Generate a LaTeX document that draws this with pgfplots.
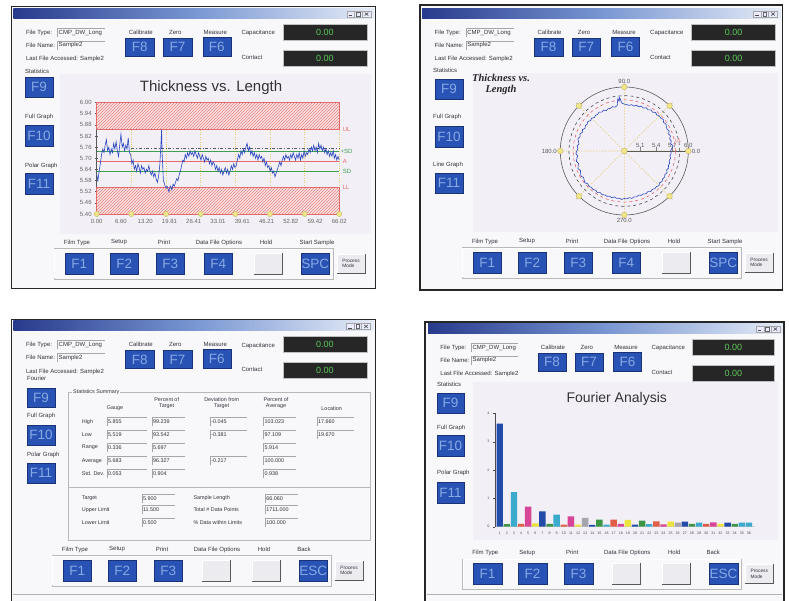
\documentclass[border=0pt]{standalone}
\usepackage{fontspec}
\setmainfont{Liberation Sans}
\newfontfamily\serifbi{Liberation Serif}
\usepackage{pgfplots}
\pgfplotsset{compat=1.18}
\usepgfplotslibrary{polar}
\usetikzlibrary{patterns}

\definecolor{tbA}{RGB}{40,58,140}
\definecolor{tbB}{RGB}{120,150,210}
\definecolor{tbC}{RGB}{230,236,247}
\definecolor{body}{RGB}{248,248,250}
\definecolor{chartbg}{RGB}{243,239,247}
\definecolor{fkfill}{RGB}{40,82,180}
\definecolor{fkedge}{RGB}{25,50,120}
\definecolor{fktxt}{RGB}{135,170,228}
\definecolor{btnfill}{RGB}{236,236,240}
\definecolor{dispfill}{RGB}{38,38,38}
\definecolor{disptxt}{RGB}{90,200,90}
\definecolor{uitext}{RGB}{50,50,60}
\definecolor{trace}{RGB}{40,70,190}
\definecolor{hatchred}{RGB}{228,105,105}
\definecolor{hatchbg}{RGB}{250,228,228}
\definecolor{sdgreen}{RGB}{60,160,80}
\definecolor{gridyel}{RGB}{225,205,110}
\definecolor{mkfill}{RGB}{240,230,140}
\definecolor{mkdraw}{RGB}{200,185,90}
\definecolor{bblue}{RGB}{35,75,170}
\definecolor{bgreen}{RGB}{60,150,70}
\definecolor{bcyan}{RGB}{60,170,205}
\definecolor{bred}{RGB}{225,95,70}
\definecolor{bmag}{RGB}{215,70,150}
\definecolor{byel}{RGB}{235,228,60}
\definecolor{bgray}{RGB}{165,165,175}

\newcommand\uif{\fontsize{6}{7}\selectfont}
\newcommand\smf{\fontsize{5.4}{6}\selectfont}
\newcommand\fkf{\fontsize{13.5}{14}\selectfont}
\tikzset{
  uil/.style={anchor=west, font=\uif, text=uitext, inner sep=0pt},
  uic/.style={anchor=center, font=\uif, text=uitext, inner sep=0pt},
  sml/.style={anchor=west, font=\smf, text=uitext, inner sep=0pt},
}

% blue function key: x1 y1 x2 y2 text
\newcommand\fkey[5]{%
  \filldraw[fill=fkfill, draw=fkedge, line width=0.5pt] (#1,#2) rectangle (#3,#4);
  \node[text=fktxt, font=\fkf, inner sep=0pt] at ({(#1+#3)/2},{(#2+#4)/2}) {#5};}
% grey raised button
\newcommand\bbtn[4]{%
  \fill[btnfill] (#1,#2) rectangle (#3,#4);
  \draw[white, line width=0.7pt] (#1,#4) -- (#1,#2) -- (#3,#2);
  \draw[black!65, line width=0.9pt] (#1,#4) -- (#3,#4) -- (#3,#2);}
% text field: x, y centre, width, text
\newcommand\fld[4]{%
  \draw[gray!70, line width=0.4pt] (#1,#2+4.3) -- (#1,#2-4.5) -- (#1+#3,#2-4.5);
  \node[anchor=west, font=\smf, text=uitext, inner sep=0pt] at (#1+1.2,#2) {#4};}
\newcommand\disp[4]{%
  \filldraw[fill=dispfill, draw=gray!50, line width=0.5pt] (#1,#2) rectangle (#3,#4);
  \node[text=disptxt, font=\fontsize{9}{10}\selectfont, inner sep=0pt] at ({(#1+#3)/2},{(#2+#4)/2}) {0.00};}
\newcommand\pframe[4]{%
  \filldraw[fill=body, draw=black!85, line width=1.2pt] (#1,#2) rectangle (#3,#4);}

% window chrome: origin x, origin y (title bar top left), width, xscale
\newcommand\chrome[4]{%
\begin{scope}[shift={(#1,#2)}, xscale=#4]
  \shade[left color=tbA, right color=tbC, middle color=tbB] (0,0) rectangle (#3,10);
  \filldraw[fill=white!92!blue, draw=gray!70, line width=0.3pt] (#3-27,2.5) rectangle (#3-19.5,8.8);
  \filldraw[fill=white!92!blue, draw=gray!70, line width=0.3pt] (#3-19.5,2.5) rectangle (#3-12,8.8);
  \filldraw[fill=white!92!blue, draw=gray!70, line width=0.3pt] (#3-12,2.5) rectangle (#3-3,8.8);
  \draw[black!70, line width=0.6pt] (#3-25.5,7.2) -- (#3-22,7.2);
  \draw[black!60, line width=0.4pt] (#3-17.6,4) rectangle (#3-14,7.5);
  \draw[black!70, line width=0.6pt] (#3-9.3,4.2) -- (#3-5.7,7.3) (#3-9.3,7.3) -- (#3-5.7,4.2);
  \node[uil] at (12.5,24.3) {File Type:};
  \fld{44}{24.3}{48}{\uif CMP\_DW\_Long}
  \node[uil] at (12.5,37) {File Name:};
  \fld{44}{37}{48}{\uif Sample2}
  \node[uil] at (12.5,51) {Last File Accessed: Sample2};
  \node[uic] at (127.5,24) {Calibrate};
  \node[uic] at (162,24) {Zero};
  \node[uic] at (202,24) {Measure};
  \fkey{112}{30}{141}{47.5}{F8}
  \fkey{150}{30}{178.5}{47.5}{F7}
  \fkey{189.5}{29}{217.5}{48}{F6}
  \node[uil] at (228,25) {Capacitance};
  \node[uil] at (228,49) {Contact};
  \disp{269.5}{16}{353.5}{31.5}
  \disp{269.5}{41.5}{353.5}{58}
\end{scope}}

% bottom button row: F1 top-left x, y, last label, its centre, F4 shown (1/0), last key
\newcommand\bottomrow[6]{%
\begin{scope}[shift={(#1,#2)}]
  \draw[gray!55, line width=0.5pt] (-11,-4.5) rectangle (268,26);
  \draw[white, line width=0.5pt] (-10.4,25.4) -- (-10.4,-3.9) -- (267.4,-3.9);
  \node[uic] at (12,-10.5) {Film Type};
  \node[uic] at (54,-10.5) {Setup};
  \node[uic] at (99,-10.5) {Print};
  \node[uic] at (154,-10.5) {Data File Options};
  \node[uic] at (201,-10.5) {Hold};
  \node[uic] at (#4,-10.5) {#3};
  \fkey{0}{0}{28.5}{21}{F1}
  \fkey{45}{0}{73.5}{21}{F2}
  \fkey{91}{0}{119.5}{21}{F3}
  \ifnum#5=1 \fkey{139}{0}{167.5}{21}{F4}\else\bbtn{139}{0}{167.5}{21}\fi
  \bbtn{189}{0}{217.5}{21}
  \fkey{236}{0}{264.5}{21}{#6}
  \bbtn{272}{1}{300}{20}
  \node[font=\fontsize{4.8}{5.4}\selectfont, text=uitext, align=left, inner sep=0pt] at (286,10.5) {Process\\Mode};
\end{scope}}

\begin{document}
\begin{tikzpicture}[x=1pt,y=1pt]
\useasboundingbox[fill=white] (0,0) rectangle (789,601);
\coordinate (posTL) at (96.7,387);
\coordinate (posPO) at (624.3,450);
\coordinate (posFA) at (495,74.3);
\begin{scope}[shift={(0,601)}, yscale=-1]
  % ---------- frames ----------
  \pframe{11.7}{6.7}{375.7}{288.3}
  \pframe{420}{5}{782.5}{290}
  \pframe{11.7}{319.5}{375.5}{606}
  \pframe{425}{322}{784}{606}
  \fill[chartbg] (60,74) rectangle (371,234);
  \fill[chartbg] (473,73) rectangle (778,232);
  \fill[chartbg] (473,382) rectangle (778,540);
  \draw[gray!60, line width=1pt] (13,595) -- (374,595);
  \draw[gray!60, line width=1pt] (427,595) -- (782,595);
  % ---------- chrome ----------
  \chrome{13.3}{8.3}{360.7}{1}
  \chrome{422}{8.3}{358.5}{1}
  \chrome{13.3}{320.7}{360.2}{1}
  \chrome{428}{323.3}{362}{0.98}
  % ---------- left columns ----------
  \node[uil] at (25,71) {Statistics};
  \fkey{25}{77}{53}{97}{F9}
  \node[uil] at (25,117) {Full Graph};
  \fkey{25}{125}{53}{146}{F10}
  \node[uil] at (25,166) {Polar Graph};
  \fkey{25}{173}{53}{194}{F11}
  \node[uil] at (433,70) {Statistics};
  \fkey{435}{79}{463}{99}{F9}
  \node[uil] at (433,117) {Full Graph};
  \fkey{435}{126}{463}{147}{F10}
  \node[uil] at (433,165) {Line Graph};
  \fkey{435}{173}{463}{193}{F11}
  \node[uil] at (27,378) {Fourier};
  \fkey{27}{388}{55}{407}{F9}
  \node[uil] at (27,416) {Full Graph};
  \fkey{27}{425}{55}{445}{F10}
  \node[uil] at (27,455) {Polar Graph};
  \fkey{27}{463}{55}{483}{F11}
  \node[uil] at (437,384) {Statistics};
  \fkey{437}{393}{464}{413}{F9}
  \node[uil] at (437,428) {Full Graph};
  \fkey{437}{435}{464}{456}{F10}
  \node[uil] at (437,473) {Polar Graph};
  \fkey{437}{482}{464}{503}{F11}
  % ---------- bottom rows ----------
  \bottomrow{65}{253}{Start Sample}{252}{1}{SPC}
  \bottomrow{473}{252}{Start Sample}{252}{1}{SPC}
  \bottomrow{63}{560}{Back}{241}{0}{ESC}
  \bottomrow{473.3}{563.3}{Back}{240}{0}{ESC}
  % ---------- titles ----------
  \node[font=\fontsize{15}{16}\selectfont, text=black!80] at (211,88) {Thickness vs. Length};
  \node[font=\serifbi\bfseries\itshape\fontsize{10.5}{11}\selectfont, align=center, text=black!85] at (501,84) {Thickness vs.\\Length};
  \node[font=\fontsize{14}{15}\selectfont, text=black!80] at (616.7,398.5) {Fourier Analysis};
  % ---------- statistics summary ----------
  \draw[gray!55, line width=0.5pt] (68.5,392) rectangle (370,540);
  \draw[gray!55, line width=0.5pt] (68.5,487) -- (370,487);
  \node[sml, fill=body, inner sep=1pt] at (72,392) {Statistics Summary};
  \node[font=\smf, text=uitext, align=center] at (115,408.3) {Gauge};
  \node[font=\smf, text=uitext, align=center] at (166.7,403.5) {Percent of\\Target};
  \node[font=\smf, text=uitext, align=center] at (221.7,403.5) {Deviation from\\Target};
  \node[font=\smf, text=uitext, align=center] at (276,403.5) {Percent of\\Average};
  \node[font=\smf, text=uitext, align=center] at (331.7,408.3) {Location};
  \node[sml] at (81.7,421.7) {High};
  \node[sml] at (81.7,435) {Low};
  \node[sml] at (81.7,447.7) {Range};
  \node[sml] at (81.7,461) {Average};
  \node[sml] at (81.7,473.3) {Std. Dev.};
  \fld{106.7}{421.7}{40}{5.855}  \fld{151.7}{421.7}{33}{99.239}
  \fld{210}{421.7}{37}{-0.045}   \fld{263.3}{421.7}{33}{103.023}
  \fld{316.7}{421.7}{37}{17.660}
  \fld{106.7}{435}{40}{5.519}    \fld{151.7}{435}{33}{93.542}
  \fld{210}{435}{37}{-0.381}     \fld{263.3}{435}{33}{97.109}
  \fld{316.7}{435}{37}{19.670}
  \fld{106.7}{447.7}{40}{0.336}  \fld{151.7}{447.7}{33}{5.697}
  \fld{263.3}{447.7}{33}{5.914}
  \fld{106.7}{461}{40}{5.683}    \fld{151.7}{461}{33}{96.327}
  \fld{210}{461}{37}{-0.217}     \fld{263.3}{461}{33}{100.000}
  \fld{106.7}{473.3}{40}{0.053}  \fld{151.7}{473.3}{33}{0.904}
  \fld{263.3}{473.3}{33}{0.938}
  \node[sml] at (81.7,498.3) {Target};
  \node[sml] at (81.7,510) {Upper Limit};
  \node[sml] at (81.7,522.7) {Lower Limit};
  \fld{141.7}{498.3}{33}{5.900}
  \fld{141.7}{510}{33}{11.500}
  \fld{141.7}{522.7}{33}{0.500}
  \node[sml] at (193.3,498.3) {Sample Length};
  \node[sml] at (193.3,510) {Total \# Data Points};
  \node[sml] at (193.3,522.7) {\% Data within Limits};
  \fld{265}{498.3}{33}{66.060}
  \fld{265}{510}{33}{1711.000}
  \fld{265}{522.7}{33}{100.000}
\end{scope}

% ================= Thickness vs. Length (line graph) =================
\begin{axis}[
  at={(posTL)}, anchor=south west, scale only axis,
  width=242.6pt, height=111.5pt,
  xmin=0, xmax=66.02, ymin=5.40, ymax=6.00, clip=false,
  axis lines*=left, axis line style={gray!70!black, line width=0.5pt},
  xtick={0,6.602,13.204,19.806,26.408,33.01,39.612,46.214,52.816,59.418,66.02},
  xticklabels={0.00,6.60,13.20,19.81,26.41,33.01,39.61,46.21,52.82,59.42,66.02},
  ytick={5.40,5.46,5.52,5.58,5.64,5.70,5.76,5.82,5.88,5.94,6.00},
  yticklabel style={/pgf/number format/.cd, fixed, fixed zerofill, precision=2},
  /pgf/number format/assume math mode=true,
  tick label style={font=\fontsize{6}{7}\selectfont, text=black!60},
  tick align=center, major tick length=3pt,
  tick style={gray!70!black, line width=0.4pt},
  extra x ticks={9.431,18.863,28.294,37.726,47.157,56.589,66.02},
  extra x tick labels={,,,,,,},
  extra x tick style={grid=major, major tick length=0pt,
    major grid style={gridyel, dotted, line width=0.7pt}},
]
\addplot[fill=hatchbg, draw=none] coordinates {(0,5.855) (66.02,5.855) (66.02,6.00) (0,6.00) (0,5.855)};
\addplot[fill=hatchbg, draw=none] coordinates {(0,5.40) (66.02,5.40) (66.02,5.545) (0,5.545) (0,5.40)};
\addplot[draw=hatchred, line width=0.6pt, pattern=north east lines, pattern color=hatchred!85]
  coordinates {(0,5.855) (66.02,5.855) (66.02,6.00) (0,6.00) (0,5.855)};
\addplot[draw=hatchred, line width=0.6pt, pattern=north east lines, pattern color=hatchred!85]
  coordinates {(0,5.40) (66.02,5.40) (66.02,5.545) (0,5.545) (0,5.40)};
\addplot[hatchred, line width=0.6pt] coordinates {(0,5.683) (66.02,5.683)};
\addplot[sdgreen, line width=0.6pt] coordinates {(0,5.736) (66.02,5.736)};
\addplot[sdgreen, line width=0.6pt] coordinates {(0,5.630) (66.02,5.630)};
\addplot[black!65, dash dot, line width=0.6pt] coordinates {(9.431,5.752) (66.02,5.752)};
\addplot[trace, line width=0.6pt] coordinates {
(0,5.61)(0.33,5.58)(0.66,5.63)(0.99,5.67)(1.32,5.72)(1.65,5.75)(1.98,5.73)(2.31,5.77)(2.64,5.80)(2.97,5.74)
(3.30,5.76)(3.63,5.72)(3.96,5.75)(4.29,5.73)(4.62,5.78)(4.95,5.75)(5.28,5.79)(5.61,5.74)(5.94,5.71)(6.27,5.77)
(6.60,5.83)(6.93,5.76)(7.26,5.78)(7.59,5.74)(7.92,5.77)(8.25,5.75)(8.58,5.81)(8.91,5.73)(9.24,5.72)(9.57,5.67)
(9.90,5.69)(10.23,5.64)(10.56,5.66)(10.89,5.63)(11.22,5.67)(11.55,5.65)(11.88,5.62)(12.21,5.66)(12.54,5.64)(12.87,5.65)
(13.20,5.62)(13.53,5.64)(13.86,5.63)(14.19,5.66)(14.52,5.63)(14.85,5.61)(15.18,5.63)(15.51,5.60)(15.84,5.62)(16.17,5.59)
(16.50,5.57)(16.83,5.60)(17.16,5.66)(17.49,5.78)(17.66,5.855)(17.82,5.72)(18.15,5.58)(18.48,5.56)(18.81,5.54)(19.14,5.55)
(19.47,5.53)(19.67,5.519)(19.80,5.535)(20.13,5.55)(20.46,5.53)(20.79,5.56)(21.12,5.55)(21.45,5.57)(21.78,5.59)(22.11,5.58)
(22.44,5.61)(22.77,5.63)(23.10,5.66)(23.43,5.69)(23.76,5.68)(24.09,5.72)(24.42,5.70)(24.75,5.73)(25.08,5.71)(25.41,5.74)
(25.74,5.72)(26.07,5.73)(26.40,5.71)(26.73,5.74)(27.06,5.72)(27.39,5.70)(27.72,5.73)(28.05,5.71)(28.38,5.69)(28.71,5.72)
(29.04,5.70)(29.37,5.68)(29.70,5.71)(30.03,5.69)(30.36,5.70)(30.69,5.67)(31.02,5.69)(31.35,5.66)(31.68,5.68)(32.01,5.67)
(32.34,5.64)(32.67,5.66)(33.00,5.63)(33.33,5.65)(33.66,5.62)(33.99,5.64)(34.32,5.61)(34.65,5.63)(34.98,5.65)(35.31,5.62)
(35.64,5.64)(35.97,5.61)(36.30,5.63)(36.63,5.66)(36.96,5.64)(37.29,5.67)(37.62,5.65)(37.95,5.66)(38.28,5.69)(38.61,5.72)
(38.94,5.70)(39.27,5.74)(39.60,5.72)(39.93,5.75)(40.26,5.73)(40.59,5.76)(40.92,5.78)(41.25,5.74)(41.58,5.76)(41.91,5.72)
(42.24,5.74)(42.57,5.71)(42.90,5.73)(43.23,5.70)(43.56,5.72)(43.89,5.69)(44.22,5.72)(44.55,5.70)(44.88,5.71)(45.21,5.68)
(45.54,5.70)(45.87,5.66)(46.20,5.68)(46.53,5.65)(46.86,5.66)(47.19,5.63)(47.52,5.65)(47.85,5.62)(48.18,5.63)(48.51,5.60)
(48.84,5.62)(49.17,5.64)(49.50,5.66)(49.83,5.68)(50.16,5.66)(50.49,5.69)(50.82,5.71)(51.15,5.69)(51.48,5.72)(51.81,5.70)
(52.14,5.71)(52.47,5.69)(52.80,5.72)(53.13,5.70)(53.46,5.73)(53.79,5.71)(54.12,5.69)(54.45,5.72)(54.78,5.70)(55.11,5.73)
(55.44,5.69)(55.77,5.72)(56.10,5.70)(56.43,5.74)(56.76,5.71)(57.09,5.73)(57.42,5.72)(57.75,5.75)(58.08,5.73)(58.41,5.76)
(58.74,5.74)(59.07,5.77)(59.40,5.74)(59.73,5.76)(60.06,5.73)(60.39,5.78)(60.72,5.75)(61.05,5.77)(61.38,5.74)(61.71,5.76)
(62.04,5.73)(62.37,5.75)(62.70,5.72)(63.03,5.74)(63.36,5.71)(63.69,5.73)(64.02,5.71)(64.35,5.74)(64.68,5.70)(65.01,5.72)
(65.34,5.69)(65.67,5.71)(66.00,5.69)};
\addplot[only marks, mark=*, mark size=2.6pt, mark options={fill=mkfill, draw=mkdraw, line width=0.4pt}]
  coordinates {(0,5.40) (9.431,5.40) (18.863,5.40) (28.294,5.40) (37.726,5.40) (47.157,5.40) (56.589,5.40) (66.02,5.40)};
\node[anchor=west, text=hatchred, font=\fontsize{6}{7}\selectfont] at (axis cs:66.02,5.855) {UL};
\node[anchor=west, text=sdgreen, font=\fontsize{6}{7}\selectfont, inner sep=1pt] at (axis cs:66.02,5.736) {+SD};
\node[anchor=west, text=hatchred, font=\fontsize{6}{7}\selectfont] at (axis cs:66.02,5.683) {A};
\node[anchor=west, text=sdgreen, font=\fontsize{6}{7}\selectfont] at (axis cs:66.02,5.630) {SD};
\node[anchor=west, text=hatchred, font=\fontsize{6}{7}\selectfont] at (axis cs:66.02,5.545) {LL};
\end{axis}

% ================= polar graph =================
\begin{polaraxis}[
  at={(posPO)}, anchor=center, scale only axis,
  width=128pt, height=128pt,
  ymin=0, ymax=1.2, y filter/.expression={y-4.8},
  xtick={0,45,90,135,180,225,270,315},
  xticklabels={0.0,,90.0,,180.0,,270.0,},
  ytick={0.3,0.6,0.9,1.2}, yticklabels={5.1,5.4,5.7,6.0},
  xmajorgrids=true, ymajorgrids=false,
  major grid style={gridyel, dash pattern=on 1.5pt off 1.5pt, line width=0.6pt},
  axis line style={black!65, line width=0.6pt},
  tick label style={font=\fontsize{6}{7}\selectfont, text=black!65},
  /pgf/number format/assume math mode=true,
  clip=false,
]
\addplot[black!70, dashed, line width=0.6pt] coordinates {
(0,5.84)(10,5.84)(20,5.84)(30,5.84)(40,5.84)(50,5.84)(60,5.84)(70,5.84)(80,5.84)(90,5.84)(100,5.84)(110,5.84)
(120,5.84)(130,5.84)(140,5.84)(150,5.84)(160,5.84)(170,5.84)(180,5.84)(190,5.84)(200,5.84)(210,5.84)(220,5.84)
(230,5.84)(240,5.84)(250,5.84)(260,5.84)(270,5.84)(280,5.84)(290,5.84)(300,5.84)(310,5.84)(320,5.84)(330,5.84)
(340,5.84)(350,5.84)(360,5.84)};
\addplot[hatchred, dashed, line width=0.6pt] coordinates {
(0,5.76)(10,5.76)(20,5.76)(30,5.76)(40,5.76)(50,5.76)(60,5.76)(70,5.76)(80,5.76)(90,5.76)(100,5.76)(110,5.76)
(120,5.76)(130,5.76)(140,5.76)(150,5.76)(160,5.76)(170,5.76)(180,5.76)(190,5.76)(200,5.76)(210,5.76)(220,5.76)
(230,5.76)(240,5.76)(250,5.76)(260,5.76)(270,5.76)(280,5.76)(290,5.76)(300,5.76)(310,5.76)(320,5.76)(330,5.76)
(340,5.76)(350,5.76)(360,5.76)};
\addplot[trace, line width=0.6pt] coordinates {
(0,5.67)(3,5.69)(6,5.72)(9,5.68)(12,5.70)(15,5.68)(18,5.71)(21,5.69)(24,5.72)(27,5.70)(30,5.71)(33,5.73)
(36,5.71)(39,5.74)(42,5.72)(45,5.73)(48,5.71)(51,5.73)(54,5.70)(57,5.72)(60,5.69)(63,5.71)(66,5.68)(69,5.70)
(72,5.67)(75,5.69)(78,5.66)(81,5.68)(84,5.66)(87,5.67)(90,5.68)(93,5.70)(95,5.81)(96,5.74)(97,5.79)(99,5.66)
(102,5.64)(105,5.66)(108,5.64)(111,5.65)(114,5.63)(117,5.66)(120,5.64)(123,5.67)(126,5.65)(129,5.66)(132,5.64)
(135,5.67)(138,5.65)(141,5.68)(144,5.66)(147,5.67)(150,5.65)(153,5.68)(156,5.66)(159,5.69)(162,5.67)(165,5.70)
(168,5.68)(171,5.66)(174,5.69)(177,5.67)(180,5.69)(183,5.71)(186,5.68)(189,5.70)(192,5.72)(195,5.69)(198,5.71)
(201,5.73)(204,5.70)(207,5.72)(210,5.74)(213,5.71)(216,5.73)(219,5.75)(222,5.72)(225,5.74)(228,5.72)(231,5.73)
(234,5.71)(237,5.73)(240,5.70)(243,5.72)(246,5.70)(249,5.71)(252,5.69)(255,5.71)(258,5.68)(261,5.70)(264,5.69)
(267,5.71)(270,5.69)(273,5.70)(276,5.68)(279,5.70)(282,5.68)(285,5.69)(288,5.67)(291,5.69)(294,5.68)(297,5.70)
(300,5.68)(303,5.71)(306,5.69)(309,5.71)(312,5.70)(315,5.72)(318,5.69)(321,5.71)(324,5.69)(327,5.70)(330,5.68)
(333,5.70)(336,5.67)(339,5.69)(342,5.67)(345,5.68)(348,5.66)(351,5.68)(354,5.66)(357,5.68)(360,5.67)};
\addplot[only marks, mark=*, mark size=2.8pt, mark options={fill=mkfill, draw=mkdraw, line width=0.4pt}]
  coordinates {(0,6.0) (45,6.0) (90,6.0) (135,6.0) (180,6.0) (225,6.0) (270,6.0) (315,6.0) (0,4.8)};
\node[text=hatchred, font=\fontsize{5}{6}\selectfont] at (axis cs:11,1.03) {UL};
\end{polaraxis}

% ================= Fourier analysis =================
\begin{axis}[
  at={(posFA)}, anchor=south west, scale only axis,
  width=260pt, height=113.4pt,
  xmin=0.34, xmax=36.85, ymin=0, ymax=4,
  ybar, bar width=6.4pt,
  axis x line*=bottom, axis y line*=left,
  x axis line style={gray!40}, y axis line style={black!70, line width=0.5pt},
  xtick={1,...,36}, xtick style={draw=none},
  ytick={0,1,2,3,4}, ytick style={black!70},
  tick align=outside, major tick length=2pt,
  tick label style={font=\fontsize{3.6}{4}\selectfont, text=black!70},
  /pgf/number format/assume math mode=true,
  clip=false,
]
\addplot[bar shift=0pt, fill=bblue, draw=none] coordinates {(1,3.64) (7,0.54) (14,0.06) (20,0.07) (27,0.18) (33,0.14)};
\addplot[bar shift=0pt, fill=bgreen, draw=none] coordinates {(2,0.09) (8,0.10) (15,0.25) (21,0.21) (28,0.10) (34,0.10)};
\addplot[bar shift=0pt, fill=bcyan, draw=none] coordinates {(3,1.22) (9,0.43) (16,0.07) (22,0.09) (29,0.14) (35,0.14) (36,0.14)};
\addplot[bar shift=0pt, fill=bred, draw=none] coordinates {(4,0.10) (10,0.07) (17,0.25) (23,0.19) (30,0.10)};
\addplot[bar shift=0pt, fill=bmag, draw=none] coordinates {(5,0.71) (11,0.36) (18,0.10) (24,0.08) (31,0.15)};
\addplot[bar shift=0pt, fill=byel, draw=none] coordinates {(6,0.12) (12,0.07) (19,0.24) (25,0.18) (32,0.10)};
\addplot[bar shift=0pt, fill=bgray, draw=none] coordinates {(13,0.31) (26,0.14)};
\end{axis}
\end{tikzpicture}
\end{document}
